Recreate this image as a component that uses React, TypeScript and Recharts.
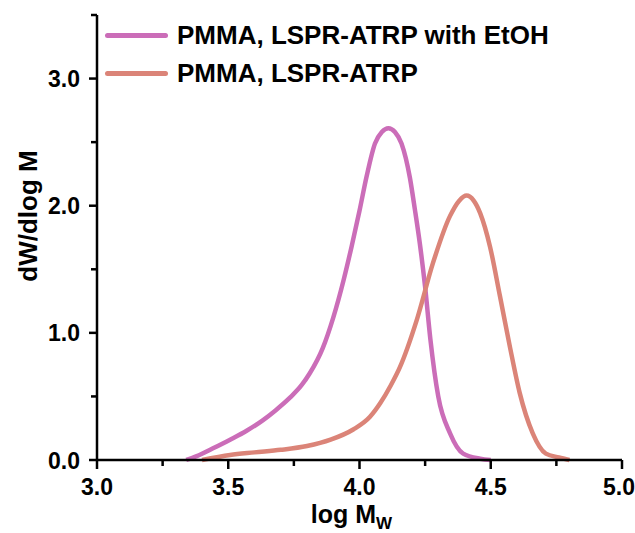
import { LineChart, Line, XAxis, YAxis } from 'recharts'

// GPC traces
const logMEtOH = [3.34, 3.38, 3.44, 3.507, 3.57, 3.63, 3.68, 3.735, 3.78, 3.81, 3.86, 3.9, 3.94, 3.97, 4.0, 4.027, 4.059, 4.085, 4.11, 4.135, 4.16, 4.192, 4.211, 4.23, 4.25, 4.27, 4.3, 4.345, 4.395, 4.46, 4.5]
const dwEtOH = [0, 0.03, 0.09, 0.16, 0.23, 0.31, 0.39, 0.49, 0.59, 0.68, 0.88, 1.12, 1.42, 1.68, 1.96, 2.23, 2.49, 2.58, 2.61, 2.58, 2.49, 2.22, 1.97, 1.7, 1.36, 0.95, 0.5, 0.21, 0.05, 0.01, 0]

const logMPlain = [3.4, 3.507, 3.6, 3.7, 3.8, 3.89, 3.976, 4.04, 4.08, 4.12, 4.154, 4.218, 4.28, 4.345, 4.38, 4.408, 4.435, 4.46, 4.497, 4.535, 4.573, 4.61, 4.66, 4.71, 4.76, 4.8]
const dwPlain = [0, 0.04, 0.06, 0.08, 0.11, 0.16, 0.24, 0.34, 0.45, 0.59, 0.73, 1.1, 1.55, 1.92, 2.04, 2.08, 2.04, 1.94, 1.68, 1.29, 0.89, 0.53, 0.21, 0.05, 0.02, 0]

const xTicks = [3.0, 3.25, 3.5, 3.75, 4.0, 4.25, 4.5, 4.75, 5.0]
const yTicks = [0, 0.5, 1.0, 1.5, 2.0, 2.5, 3.0, 3.5]

const seriesNames = ['PMMA, LSPR-ATRP with EtOH', 'PMMA, LSPR-ATRP']
const COLORS = ['#CB6DB8', '#DB8478']

const etohData = logMEtOH.map((x, i) => ({ x, y: dwEtOH[i] }))
const plainData = logMPlain.map((x, i) => ({ x, y: dwPlain[i] }))

const FONT = 'Arial, "Liberation Sans", sans-serif'

const isMajor = (v: number, step: number) => Math.abs(v / step - Math.round(v / step)) < 1e-6

function XTick(props: any) {
  const { x, y, payload } = props
  const major = isMajor(payload.value, 0.5)
  // last label sits against the page edge
  const tx = payload.value === 5 ? x - 3 : x
  return (
    <g>
      <line x1={x} x2={x} y1={y} y2={y + (major ? 9 : 6)} stroke="#000" strokeWidth={2.5} />
      {major && (
        <text x={tx} y={y + 35} textAnchor="middle" fontFamily={FONT} fontWeight="bold" fontSize={23} fill="#000">
          {payload.value.toFixed(1)}
        </text>
      )}
    </g>
  )
}

function YTick(props: any) {
  const { x, y, payload } = props
  const major = isMajor(payload.value, 1)
  return (
    <g>
      <line x1={x - (major ? 8 : 6)} x2={x} y1={y} y2={y} stroke="#000" strokeWidth={2.5} />
      {major && (
        <text x={x - 17} y={y + 8.5} textAnchor="end" fontFamily={FONT} fontWeight="bold" fontSize={23} fill="#000">
          {payload.value.toFixed(1)}
        </text>
      )}
    </g>
  )
}

function LegendBox() {
  return (
    <div style={{ position: 'absolute', left: 105, top: 16, fontFamily: FONT, fontWeight: 'bold', fontSize: 26, color: '#000', lineHeight: '38px' }}>
      {seriesNames.map((name, i) => (
        <div key={name} style={{ display: 'flex', alignItems: 'center', height: 38 }}>
          <div style={{ width: 63, height: 5, borderRadius: 2.5, background: COLORS[i], marginRight: 9 }} />
          <span style={{ whiteSpace: 'nowrap' }}>{name}</span>
        </div>
      ))}
    </div>
  )
}

export default function App() {
  return (
    <div style={{ position: 'absolute', left: 0, top: 0, width: 635, height: 533, background: '#fff' }}>
      <LineChart width={635} height={533} margin={{ top: 15, right: 13, bottom: 0, left: 0 }}>
        <XAxis
          type="number"
          dataKey="x"
          domain={[3, 5]}
          ticks={xTicks}
          interval={0}
          height={73}
          tickSize={0}
          tickMargin={0}
          tickLine={false}
          axisLine={{ stroke: '#000', strokeWidth: 2.5 }}
          tick={<XTick />}
          label={({ viewBox }: any) => (
            <text x={viewBox.x + viewBox.width / 2 - 8} y={523} textAnchor="middle" fontFamily={FONT} fontWeight="bold" fontSize={25} fill="#000">
              log M<tspan fontSize={17} dy={6}>W</tspan>
            </text>
          )}
        />
        <YAxis
          type="number"
          domain={[0, 3.5]}
          ticks={yTicks}
          interval={0}
          width={97}
          tickSize={0}
          tickMargin={0}
          tickLine={false}
          axisLine={{ stroke: '#000', strokeWidth: 2.5 }}
          tick={<YTick />}
          label={() => (
            <text x={37} y={216} transform="rotate(-90 37 216)" textAnchor="middle" fontFamily={FONT} fontWeight="bold" fontSize={26} fill="#000">
              dW/dlog M
            </text>
          )}
        />
        <Line data={etohData} dataKey="y" type="monotone" stroke={COLORS[0]} strokeWidth={4.5} dot={false} isAnimationActive={false} />
        <Line data={plainData} dataKey="y" type="monotone" stroke={COLORS[1]} strokeWidth={4.5} dot={false} isAnimationActive={false} />
      </LineChart>
      <LegendBox />
    </div>
  )
}
